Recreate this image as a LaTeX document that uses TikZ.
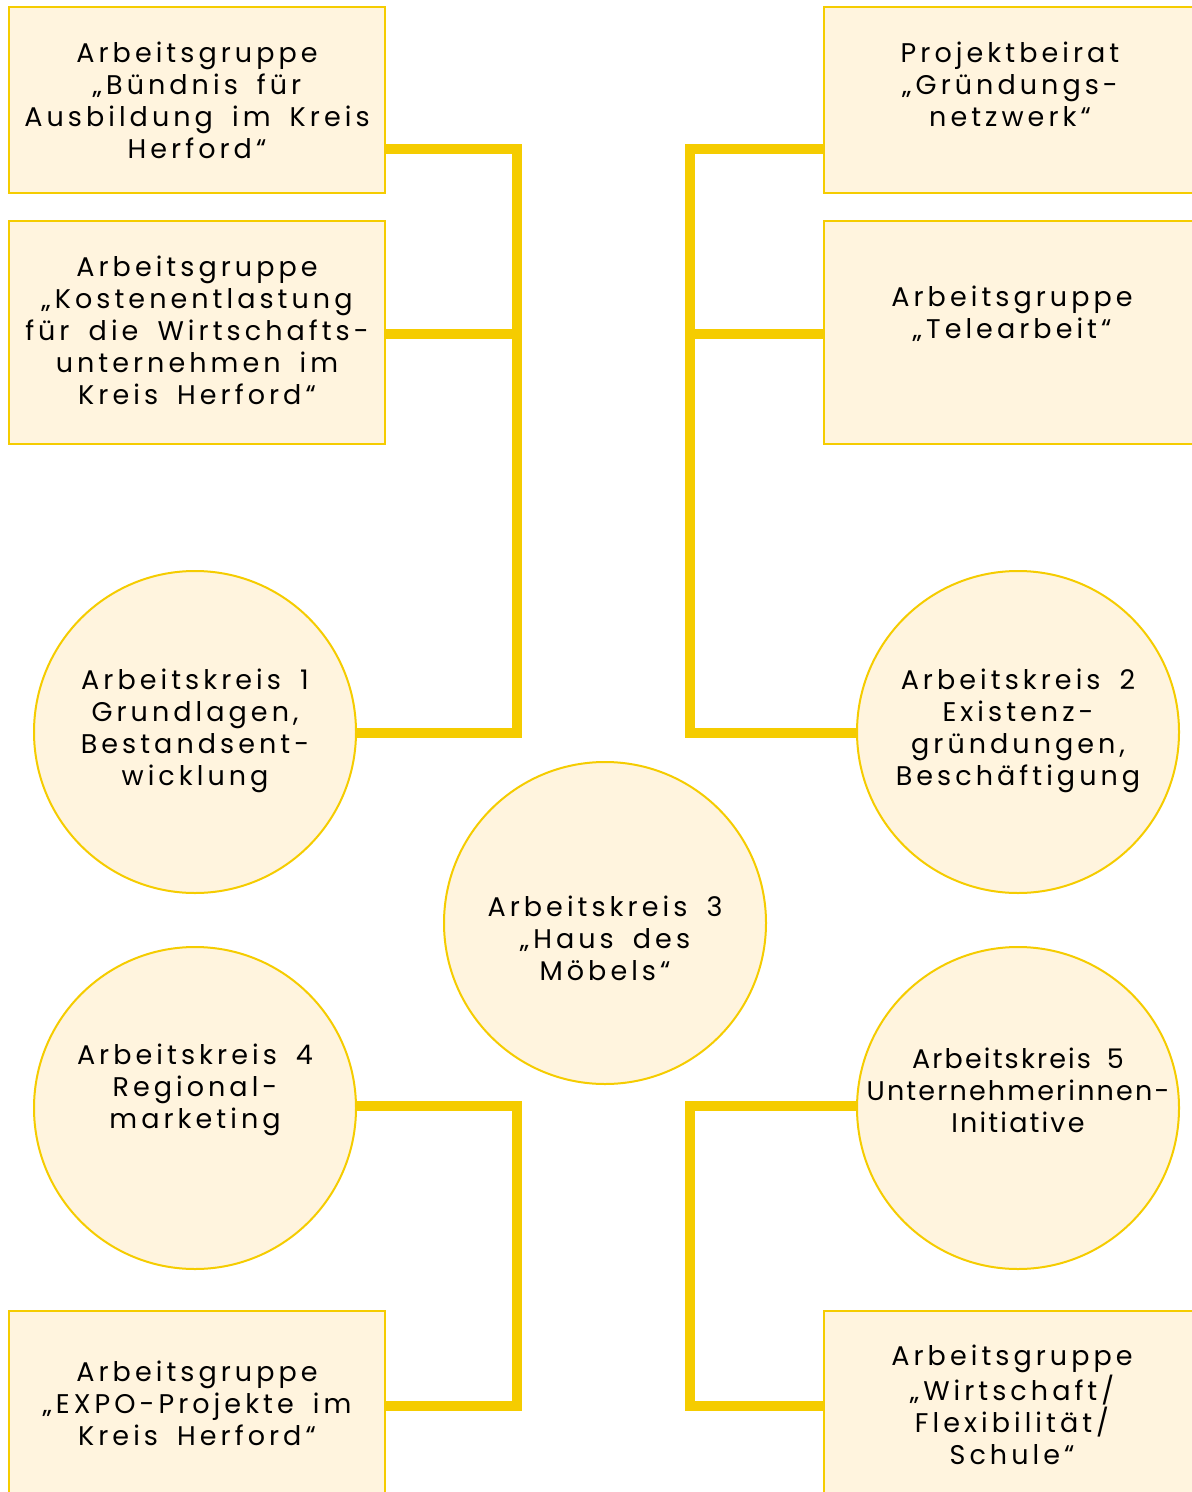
\documentclass[tikz,border=0pt]{standalone}
\usepackage{fontspec}
\setmainfont{Poppins}[LetterSpace=15,WordSpace=1.7]
\newfontfamily\narrowfont{Poppins}[LetterSpace=8,WordSpace=1.7]
\definecolor{gold}{RGB}{245,204,0}
\definecolor{cream}{RGB}{255,244,222}
\begin{document}
\begin{tikzpicture}[x=0.5pt,y=-0.5pt,
  boxshape/.style={draw=gold,fill=cream,line width=1.25pt,rectangle,inner sep=0pt},
  circshape/.style={draw=gold,fill=cream,line width=1pt,circle,inner sep=0pt,minimum size=161pt},
  txt/.style={align=center,inner sep=0pt,font=\fontsize{13.5}{16}\selectfont},
  conn/.style={draw=gold,line width=5pt,line join=miter,line cap=butt}]
\clip (0,0) rectangle (1192,1492);
\fill[white] (0,0) rectangle (1192,1492);
% junction coordinates
\coordinate (L1) at (517,149);
\coordinate (L2) at (517,334);
\coordinate (L3) at (517,733);
\coordinate (R1) at (690,149);
\coordinate (R2) at (690,334);
\coordinate (R3) at (690,733);
\coordinate (L4) at (517,1106);
\coordinate (L5) at (517,1406);
\coordinate (R4) at (690,1106);
\coordinate (R5) at (690,1406);
% boxes
\node[boxshape,minimum width=188pt,minimum height=93pt] (b1) at (197,100) {};
\node[boxshape,minimum width=188pt,minimum height=111.5pt] (b2) at (197,332.5) {};
\node[boxshape,minimum width=188pt,minimum height=93pt] (b3) at (1012,100) {};
\node[boxshape,minimum width=188pt,minimum height=111.5pt] (b4) at (1012,332.5) {};
\node[boxshape,minimum width=188pt,minimum height=93pt] (b5) at (197,1404) {};
\node[boxshape,minimum width=188pt,minimum height=93pt] (b6) at (1012,1404) {};
% connectors
\path[conn] (b1.east |- L1) -- (L1) -- (L3) -- (356,733);
\path[conn] (b2.east |- L2) -- (L2);
\path[conn] (b3.west |- R1) -- (R1) -- (R3) -- (857,733);
\path[conn] (b4.west |- R2) -- (R2);
\path[conn] (356,1106) -- (L4) -- (L5) -- (b5.east |- L5);
\path[conn] (857,1106) -- (R4) -- (R5) -- (b6.west |- R5);
% circles
\node[circshape] (c1) at (195,732) {};
\node[circshape] (c2) at (1018,732) {};
\node[circshape] (c3) at (605,923) {};
\node[circshape] (c4) at (195,1108) {};
\node[circshape] (c5) at (1018,1108) {};
% texts
\node[txt] (t1) at (197,100) {Arbeitsgruppe\\„Bündnis für\\Ausbildung im Kreis\\Herford“};
\node[txt] (t2) at (197,330) {Arbeitsgruppe\\„Kostenentlastung\\für die Wirtschafts-\\unternehmen im\\Kreis Herford“};
\node[txt] (t3) at (1010,84) {Projektbeirat\\„Gründungs-\\netzwerk“};
\node[txt] (t4) at (1012,314) {Arbeitsgruppe\\„Telearbeit“};
\node[txt] (t5) at (197,1403) {Arbeitsgruppe\\„EXPO-Projekte im\\Kreis Herford“};
\node[txt] (t6) at (1012,1405) {Arbeitsgruppe\\„Wirtschaft/\\Flexibilität/\\Schule“};
\node[txt] (k1) at (195,731) {Arbeitskreis 1\\Grundlagen,\\Bestandsent-\\wicklung};
\node[txt] (k2) at (1018,731) {Arbeitskreis 2\\Existenz-\\gründungen,\\Beschäftigung};
\node[txt] (k3) at (605,938) {Arbeitskreis 3\\„Haus des\\Möbels“};
\node[txt] (k4) at (195,1090) {Arbeitskreis 4\\Regional-\\marketing};
\node[txt,font=\fontsize{13.5}{16}\narrowfont] (k5) at (1018,1090) {Arbeitskreis 5\\Unternehmerinnen-\\Initiative};
\end{tikzpicture}
\end{document}
